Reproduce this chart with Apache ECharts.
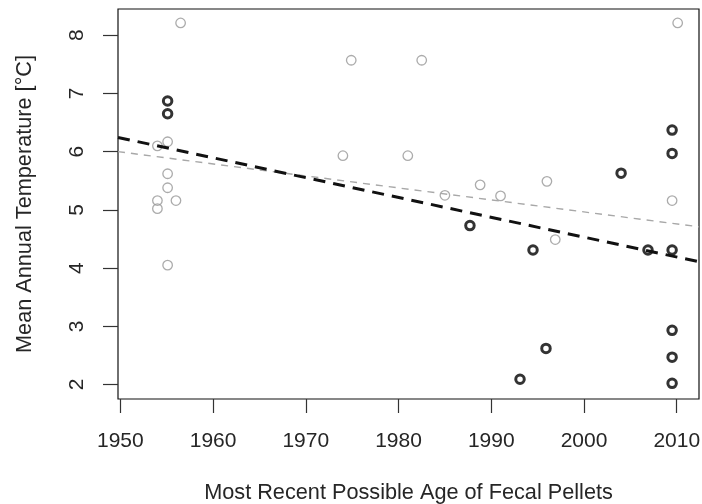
<!DOCTYPE html>
<html>
<head>
<meta charset="utf-8">
<script src="https://cdn.jsdelivr.net/npm/echarts@6/dist/echarts.min.js"></script>
<style>
  html, body { margin: 0; padding: 0; background: #fff; }
  #chart { width: 702px; height: 504px; }
</style>
</head>
<body>
<div id="chart"></div>
<script>
// Pellet samples, grey (open) group
const greyYears = [1956.5, 1955.1, 1954.0, 1955.1, 1955.1, 1954.0, 1954.0, 1956.0, 1955.1,
                   1974.9, 1982.5, 1974.0, 1981.0, 1985.0, 1988.8, 1991.0, 1996.0, 1996.9,
                   2010.1, 2009.5];
const greyTemps = [8.21, 6.17, 6.10, 5.62, 5.38, 5.16, 5.02, 5.16, 4.05,
                   7.57, 7.57, 5.93, 5.93, 5.25, 5.43, 5.24, 5.49, 4.49,
                   8.21, 5.16];

// Pellet samples, black (bold) group
const blackYears = [1955.1, 1955.1, 1987.7, 1993.1, 1994.5, 1995.9, 2004.0, 2006.9,
                    2009.5, 2009.5, 2009.5, 2009.5, 2009.5, 2009.5];
const blackTemps = [6.87, 6.65, 4.73, 2.09, 4.31, 2.62, 5.63, 4.31,
                    6.37, 5.97, 4.31, 2.93, 2.47, 2.02];

// Fitted trend lines, endpoints at the plot edges
const blackTrend = [[1949.75, 6.244], [2012.4, 4.108]];
const greyTrend  = [[1949.75, 6.00],  [2012.4, 4.709]];

// Tick values
const xTicks = [1950, 1960, 1970, 1980, 1990, 2000, 2010];
const yTicks = [2, 3, 4, 5, 6, 7, 8];

const zip = (xs, ys) => xs.map((x, i) => [x, ys[i]]);

const textColor = '#262626';
const fontFamily = 'Liberation Sans, Arial, sans-serif';

const chart = echarts.init(document.getElementById('chart'), null, { renderer: 'canvas' });
chart.setOption({
  animation: false,
  backgroundColor: '#fff',
  grid: {
    left: 118, right: 3, top: 9, bottom: 105,
    outerBoundsMode: 'none',
    containLabel: false,
    show: true, borderColor: '#111', borderWidth: 1.2, backgroundColor: 'transparent'
  },
  xAxis: {
    type: 'value',
    min: 1949.75, max: 2012.4,
    name: 'Most Recent Possible Age of Fecal Pellets',
    nameLocation: 'middle',
    nameGap: 83,
    nameTextStyle: { color: textColor, fontSize: 21.7, fontFamily },
    axisLine: { show: false },
    splitLine: { show: false },
    axisTick: { show: true, customValues: xTicks, length: 14, inside: false,
                lineStyle: { color: '#333', width: 1.2 } },
    axisLabel: { customValues: xTicks, color: textColor, fontSize: 21, fontFamily, margin: 32,
                 formatter: v => String(v) }
  },
  yAxis: {
    type: 'value',
    min: 1.751, max: 8.45,
    name: 'Mean Annual Temperature [°C]',
    nameLocation: 'middle',
    nameRotate: 90,
    nameGap: 82,
    nameTextStyle: { color: textColor, fontSize: 21.7, fontFamily },
    axisLine: { show: false },
    splitLine: { show: false },
    axisTick: { show: true, customValues: yTicks, length: 15, inside: false,
                lineStyle: { color: '#333', width: 1.2 } },
    axisLabel: { customValues: yTicks, color: textColor, fontSize: 21, fontFamily,
                 rotate: 90, margin: 30, formatter: v => String(v) }
  },
  series: [
    {
      type: 'scatter',
      data: zip(greyYears, greyTemps),
      symbol: 'circle',
      symbolSize: 9.5,
      itemStyle: { color: 'rgba(0,0,0,0)', borderColor: '#969696', borderWidth: 1.3 },
      z: 2
    },
    {
      type: 'scatter',
      data: zip(blackYears, blackTemps),
      symbol: 'circle',
      symbolSize: 8.5,
      itemStyle: { color: 'rgba(0,0,0,0)', borderColor: '#000', borderWidth: 3 },
      z: 3
    },
    {
      type: 'line',
      data: greyTrend,
      symbol: 'none',
      clip: true,
      lineStyle: { color: '#a8a8a8', width: 1.4, type: [7, 6] },
      z: 4
    },
    {
      type: 'line',
      data: blackTrend,
      symbol: 'none',
      clip: true,
      lineStyle: { color: '#111', width: 3, type: [12, 8] },
      z: 5
    }
  ]
});
</script>
</body>
</html>
